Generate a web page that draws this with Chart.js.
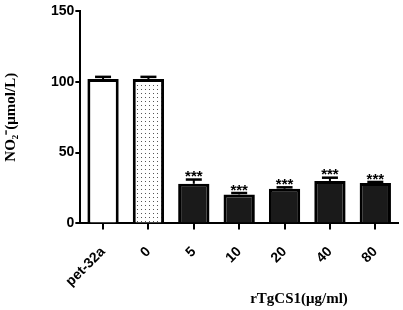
<!DOCTYPE html>
<html>
<head>
<meta charset="utf-8">
<script src="https://cdn.jsdelivr.net/npm/chart.js@4.4.1/dist/chart.umd.min.js"></script>
<style>
  html, body { margin: 0; padding: 0; background: #fff; }
  #wrap { width: 403px; height: 310px; }
</style>
</head>
<body>
<div id="wrap"><canvas id="no2Chart" width="403" height="310"></canvas></div>
<script>
// values
const categories = ["pet-32a", "0", "5", "10", "20", "40", "80"];
const noValues = [102, 102, 28, 20.5, 24.5, 30, 28.5];
const noErrors = [1.5, 1.5, 3, 1, 1, 2.3, 0.8];
const significance = ["", "", "***", "***", "***", "***", "***"];
const yTicks = [0, 50, 100, 150];
const xTitle = "rTgCS1(\u03BCg/ml)";

function dotPattern() {
  const c = document.createElement("canvas");
  c.width = 4;
  c.height = 4;
  const g = c.getContext("2d");
  g.fillStyle = "#ffffff";
  g.fillRect(0, 0, 4, 4);
  g.fillStyle = "#555555";
  g.fillRect(1, 1, 1, 1);
  return g.createPattern(c, "repeat");
}

const fills = ["#ffffff", dotPattern(), "#1a1a1a", "#1a1a1a", "#1a1a1a", "#1a1a1a", "#1a1a1a"];

// error bars + stars, positioned through the chart scales
const errorBarPlugin = {
  id: "errorBars",
  afterDatasetsDraw(chart) {
    const ctx = chart.ctx;
    const y = chart.scales.y;
    const meta = chart.getDatasetMeta(0);
    ctx.save();
    meta.data.forEach((bar, i) => {
      const top = y.getPixelForValue(noValues[i]);
      const cap = y.getPixelForValue(noValues[i] + noErrors[i]);
      ctx.strokeStyle = "#000";
      ctx.lineWidth = 2;
      ctx.beginPath();
      ctx.moveTo(bar.x, top);
      ctx.lineTo(bar.x, cap);
      ctx.stroke();
      ctx.lineWidth = 2.5;
      ctx.beginPath();
      ctx.moveTo(bar.x - 8, cap);
      ctx.lineTo(bar.x + 8, cap);
      ctx.stroke();
      if (significance[i]) {
        ctx.fillStyle = "#000";
        ctx.font = "bold 15px 'Liberation Sans', Arial, sans-serif";
        ctx.textAlign = "center";
        ctx.textBaseline = "top";
        ctx.fillText(significance[i], bar.x, cap - 10);
      }
    });
    ctx.restore();
  },
  afterDraw(chart) {
    // x axis title sits right of centre in the original
    const ctx = chart.ctx;
    ctx.save();
    ctx.fillStyle = "#000";
    ctx.font = "bold 15px 'Liberation Serif', 'Times New Roman', serif";
    ctx.textAlign = "center";
    ctx.textBaseline = "middle";
    ctx.fillText(xTitle, 299, 299);
    ctx.restore();
  }
};

new Chart(document.getElementById("no2Chart"), {
  type: "bar",
  data: {
    labels: categories,
    datasets: [{
      data: noValues,
      backgroundColor: fills,
      borderColor: "#000000",
      borderWidth: 3,
      borderSkipped: "bottom",
      categoryPercentage: 1.0,
      barPercentage: 0.69
    }]
  },
  options: {
    responsive: false,
    animation: false,
    devicePixelRatio: 1,
    layout: { padding: { left: 2, right: 5, top: 11, bottom: 6 } },
    plugins: {
      legend: { display: false },
      tooltip: { enabled: false }
    },
    scales: {
      y: {
        min: 0,
        max: 150,
        afterBuildTicks: (axis) => { axis.ticks = yTicks.map(v => ({ value: v })); },
        border: { color: "#000", width: 2 },
        grid: { drawOnChartArea: false, color: "#000", lineWidth: 2, tickLength: 5 },
        ticks: {
          color: "#000",
          padding: 1,
          font: { family: "'Liberation Sans', Arial, sans-serif", size: 14, weight: "bold" }
        },
        title: {
          display: true,
          text: "NO\u2082\u207B(\u03BCmol/L)",
          color: "#000",
          padding: { top: 0, bottom: 30 },
          font: { family: "'Liberation Serif', 'Times New Roman', serif", size: 15, weight: "bold" }
        }
      },
      x: {
        offset: true,
        border: { color: "#000", width: 2 },
        grid: { drawOnChartArea: false, color: "#000", lineWidth: 2, tickLength: 6, offset: false },
        ticks: {
          color: "#000",
          minRotation: 45,
          maxRotation: 45,
          padding: 14,
          font: { family: "'Liberation Sans', Arial, sans-serif", size: 14, weight: "bold" }
        }
      }
    }
  },
  plugins: [errorBarPlugin]
});
</script>
</body>
</html>
